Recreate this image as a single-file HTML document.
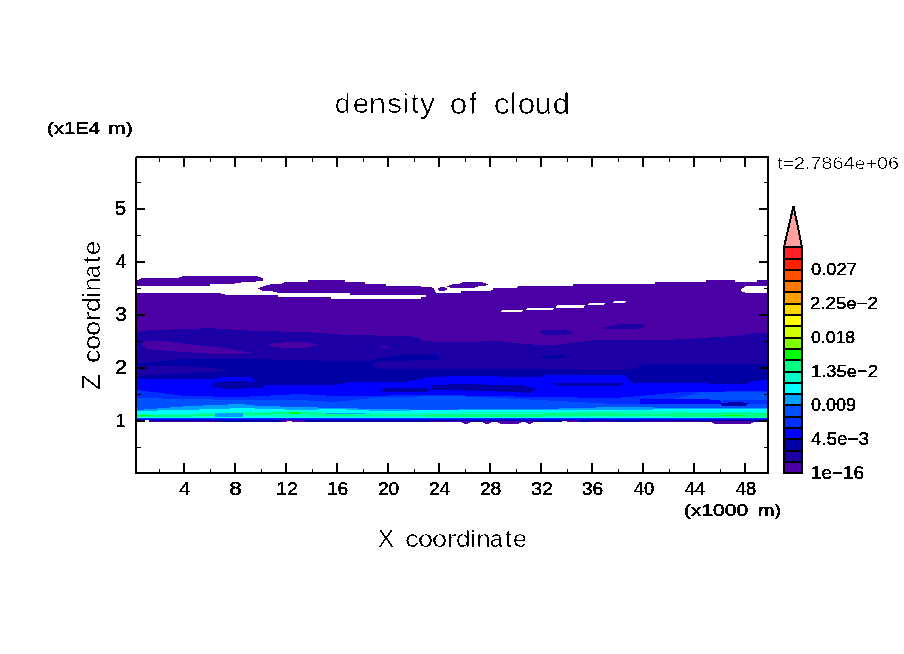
<!DOCTYPE html>
<html><head><meta charset="utf-8"><style>
html,body{margin:0;padding:0;background:#fff;width:904px;height:654px;overflow:hidden;position:relative}
svg{display:block}
</style></head><body>
<svg width="904" height="654" viewBox="0 0 904 654">
<defs><clipPath id="pc"><rect x="137" y="158" width="630" height="314"/></clipPath></defs>
<rect width="904" height="654" fill="#fff"/>
<g clip-path="url(#pc)" shape-rendering="crispEdges">
<polygon points="137,293 221,293 221,294 225,294 225,295 278,295 278,297 331,297 331,299 421,299 421,297 426,297 426,299 436,299 436,293 461,293 461,291 491,291 491,290 493,290 493,288 517,288 517,287 518,287 518,286 573,286 573,284 655,284 655,282 706,282 706,280 735,280 735,282 757,282 757,280 767,280 767,422 137,422" fill="#4b00a5"/>
<polygon points="137,280 139,280 139,279 141,279 141,278 179,278 179,277 182,277 182,276 258,276 258,277 261,277 261,278 263,278 263,281 256,281 256,282 241,282 241,283 235,283 235,284 210,284 210,286 137,286" fill="#4b00a5"/>
<polygon points="258,288 260,288 260,287 263,287 263,286 266,286 266,285 270,285 270,284 282,284 282,283 284,283 284,282 308,282 308,280 345,280 345,282 365,282 365,284 386,284 386,286 421,286 421,287 432,287 432,288 434,288 434,290 435,290 435,292 436,292 436,300 426,300 426,295 350,295 350,293 277,293 277,292 273,292 273,291 262,291 262,290 260,290 260,289 258,289" fill="#4b00a5"/>
<polygon points="437,289 439,288 441,287 444,287 446,288 447,289 446,290 444,291 440,291 438,290" fill="#4b00a5"/>
<polygon points="447,286 449,286 449,285 452,285 452,284 460,284 460,283 462,283 462,282 483,282 483,283 486,283 486,284 488,284 488,285 486,285 486,286 478,286 478,287 475,287 475,288 450,288 450,287 447,287" fill="#4b00a5"/>
<polygon points="502,310 523,310 522,312 501,312" fill="#ffffff"/>
<polygon points="527,308 554,308 553,310 526,310" fill="#ffffff"/>
<polygon points="557,305 585,305 584,308 556,308" fill="#ffffff"/>
<polygon points="589,303 605,303 604,305 588,305" fill="#ffffff"/>
<polygon points="614,301 626,301 625,303 613,303" fill="#ffffff"/>
<polygon points="740,290 743,288 746,286 767,286 767,293 746,293 743,292" fill="#ffffff"/>
<polygon points="137,332 151,330 191,329 207,328 223,329 240,330 253,331 308,332 333,334 345,335 406,336 416,337 423,341 440,342 472,342 492,341 500,341 513,343 540,345 553,345 570,343 580,342 595,340 665,340 686,339 702,338 716,337 733,336 740,335 756,333 767,333 767,422 137,422" fill="#1c00a6"/>
<polygon points="142,344 145,341 166,341 168,342 195,345 225,348 240,351 255,353 240,354 215,354 170,351 146,349" fill="#4b00a5"/>
<polygon points="268,345 275,343 290,342 305,342 319,345 305,348 285,348 272,347" fill="#4b00a5"/>
<polygon points="379,347 382,346 389,346 387,348 381,348" fill="#4b00a5"/>
<polygon points="539,332 545,330 565,330 574,333 565,335 545,335" fill="#1c00a6"/>
<polygon points="600,328 610,326 620,324 644,324 644,327 636,329 605,329" fill="#1c00a6"/>
<polygon points="137,364 163,361 181,359 240,359 300,360 335,361 371,361 385,357 400,355 439,355 440,369 540,369 615,370 634,369 640,365 653,364 767,364 767,422 137,422" fill="#0000a5"/>
<polygon points="371,365 378,361 440,360 440,369 378,369" fill="#1c00a6"/>
<polygon points="137,366 181,366 210,368 231,370 210,372 181,373 150,375 137,376" fill="#1c00a6"/>
<polygon points="539,357 548,355 560,355 566,357 558,359 545,359" fill="#0000a5"/>
<polygon points="137,379 217,379 220,377 250,377 255,381 262,385 335,385 351,382 405,382 431,377 460,376 540,377 545,375 625,375 628,378 632,383 700,383 715,384 745,384 755,381 767,380 767,422 137,422" fill="#0000ff"/>
<polygon points="215,382 240,381 267,383 262,388 225,389 211,386" fill="#0000a5"/>
<polygon points="437,386 450,384 520,385 537,389 530,393 512,392 450,390" fill="#0000a5"/>
<polygon points="550,383 560,383 625,383 620,386 560,386" fill="#0000a5"/>
<polygon points="431,385 460,385 460,390 431,390" fill="#0000a5"/>
<polygon points="380,389 390,388 425,388 431,390 425,392 385,392" fill="#0000a5"/>
<polygon points="137,390 185,396 240,397 300,394 335,396 440,395 540,397 615,398 640,396 660,394 683,392 767,391 767,422 137,422" fill="#0030ff"/>
<polygon points="137,398 185,399 240,400 300,400 335,402 380,397 455,396 540,400 615,404 640,404 683,397 700,392 767,392 767,422 137,422" fill="#0050ff"/>
<polygon points="640,399 700,399 720,400 722,404 640,404" fill="#0000ff"/>
<polygon points="722,400 767,400 767,404 722,404" fill="#0030ff"/>
<polygon points="720,403 735,402 750,403 745,406 722,406" fill="#0000a5"/>
<polygon points="137,410 190,406 240,404 260,406 300,407 335,408 380,409 440,410 475,409 540,409 615,407 690,408 767,408 767,422 137,422" fill="#00a0ff"/>
<polygon points="137,411 220,409 240,408 300,410 335,409 380,411 440,410 540,410 615,410 690,409 767,409 767,418 137,418" fill="#00ffff"/>
<polygon points="137,414 180,414 240,412 300,411 330,413 380,413 540,412 615,411 680,411 690,412 767,412 767,418 690,417 615,417 540,417 380,417 300,417 240,416 180,417 137,417" fill="#00ffc0"/>
<polygon points="137,415 175,415 245,413 300,412 330,414 380,415 470,414 530,414 560,413 600,413 640,414 700,413 767,413 767,417 700,417 640,416 600,416 560,416 530,417 470,417 380,416 330,416 300,414 245,415 175,417 137,417" fill="#00ff80"/>
<polygon points="215,413 243,413 243,417 215,417" fill="#00a0ff"/>
<polygon points="325,413 365,413 365,414 325,414" fill="#00a0ff"/>
<polygon points="289,412 299,412 299,414 289,414" fill="#00ff00"/>
<polygon points="722,415 743,415 743,416 722,416" fill="#00ff00"/>
<polygon points="140,415 150,415 150,416 140,416" fill="#00ff00"/>
<polygon points="137,418 767,418 767,419 137,419" fill="#0030ff"/>
<polygon points="137,419 767,419 767,420 137,420" fill="#0000ff"/>
<polygon points="137,420 767,420 767,422 137,422" fill="#0000a5"/>
<polygon points="150,421 215,421 215,422 150,422" fill="#4b00a5"/>
<polygon points="282,420 305,420 305,422 282,422" fill="#4b00a5"/>
<polygon points="567,420 580,420 580,422 567,422" fill="#4b00a5"/>
<polygon points="590,421 615,421 615,422 590,422" fill="#4b00a5"/>
<polygon points="430,421 460,421 460,422 430,422" fill="#4b00a5"/>
<polygon points="640,421 700,421 700,422 640,422" fill="#4b00a5"/>
<polygon points="462,421 470,421 470,423 468,423 468,424 464,424 464,423 462,423" fill="#4b00a5"/>
<polygon points="483,421 491,421 491,423 489,423 489,424 485,424 485,423 483,423" fill="#4b00a5"/>
<polygon points="498,421 521,421 521,423 519,423 519,424 500,424 500,423 498,423" fill="#4b00a5"/>
<polygon points="526,421 533,421 533,423 531,423 531,424 528,424 528,423 526,423" fill="#4b00a5"/>
<polygon points="712,421 753,421 753,423 751,423 751,424 714,424 714,423 712,423" fill="#4b00a5"/>
<polygon points="145,421 149,421 149,422 145,422" fill="#ffffff"/>
<polygon points="287,421 292,421 292,422 287,422" fill="#ffffff"/>
<polygon points="562,421 567,421 567,422 562,422" fill="#ffffff"/>
<polygon points="145,420 149,420 149,421 145,421" fill="#ffffff"/>
</g>
<g shape-rendering="crispEdges">
<rect x="135" y="157" width="2" height="317" fill="#000"/>
<rect x="136" y="156" width="633" height="2" fill="#000"/>
<rect x="767" y="156" width="2" height="318" fill="#000"/>
<rect x="135" y="472" width="634" height="2" fill="#000"/>
<rect x="159" y="469" width="1" height="3" fill="#000"/>
<rect x="159" y="158" width="1" height="4" fill="#000"/>
<rect x="183" y="463" width="2" height="9" fill="#000"/>
<rect x="183" y="158" width="2" height="9" fill="#000"/>
<rect x="210" y="469" width="1" height="3" fill="#000"/>
<rect x="210" y="158" width="1" height="4" fill="#000"/>
<rect x="234" y="463" width="2" height="9" fill="#000"/>
<rect x="234" y="158" width="2" height="9" fill="#000"/>
<rect x="261" y="469" width="1" height="3" fill="#000"/>
<rect x="261" y="158" width="1" height="4" fill="#000"/>
<rect x="285" y="463" width="2" height="9" fill="#000"/>
<rect x="285" y="158" width="2" height="9" fill="#000"/>
<rect x="312" y="469" width="1" height="3" fill="#000"/>
<rect x="312" y="158" width="1" height="4" fill="#000"/>
<rect x="336" y="463" width="2" height="9" fill="#000"/>
<rect x="336" y="158" width="2" height="9" fill="#000"/>
<rect x="363" y="469" width="1" height="3" fill="#000"/>
<rect x="363" y="158" width="1" height="4" fill="#000"/>
<rect x="387" y="463" width="2" height="9" fill="#000"/>
<rect x="387" y="158" width="2" height="9" fill="#000"/>
<rect x="414" y="469" width="1" height="3" fill="#000"/>
<rect x="414" y="158" width="1" height="4" fill="#000"/>
<rect x="438" y="463" width="2" height="9" fill="#000"/>
<rect x="438" y="158" width="2" height="9" fill="#000"/>
<rect x="465" y="469" width="1" height="3" fill="#000"/>
<rect x="465" y="158" width="1" height="4" fill="#000"/>
<rect x="489" y="463" width="2" height="9" fill="#000"/>
<rect x="489" y="158" width="2" height="9" fill="#000"/>
<rect x="516" y="469" width="1" height="3" fill="#000"/>
<rect x="516" y="158" width="1" height="4" fill="#000"/>
<rect x="540" y="463" width="2" height="9" fill="#000"/>
<rect x="540" y="158" width="2" height="9" fill="#000"/>
<rect x="567" y="469" width="1" height="3" fill="#000"/>
<rect x="567" y="158" width="1" height="4" fill="#000"/>
<rect x="591" y="463" width="2" height="9" fill="#000"/>
<rect x="591" y="158" width="2" height="9" fill="#000"/>
<rect x="618" y="469" width="1" height="3" fill="#000"/>
<rect x="618" y="158" width="1" height="4" fill="#000"/>
<rect x="642" y="463" width="2" height="9" fill="#000"/>
<rect x="642" y="158" width="2" height="9" fill="#000"/>
<rect x="669" y="469" width="1" height="3" fill="#000"/>
<rect x="669" y="158" width="1" height="4" fill="#000"/>
<rect x="693" y="463" width="2" height="9" fill="#000"/>
<rect x="693" y="158" width="2" height="9" fill="#000"/>
<rect x="720" y="469" width="1" height="3" fill="#000"/>
<rect x="720" y="158" width="1" height="4" fill="#000"/>
<rect x="744" y="463" width="2" height="9" fill="#000"/>
<rect x="744" y="158" width="2" height="9" fill="#000"/>
<rect x="137" y="447" width="4" height="1" fill="#000"/>
<rect x="764" y="447" width="3" height="1" fill="#000"/>
<rect x="137" y="420" width="8" height="2" fill="#000"/>
<rect x="759" y="420" width="8" height="2" fill="#000"/>
<rect x="137" y="394" width="4" height="1" fill="#000"/>
<rect x="764" y="394" width="3" height="1" fill="#000"/>
<rect x="137" y="367" width="8" height="2" fill="#000"/>
<rect x="759" y="367" width="8" height="2" fill="#000"/>
<rect x="137" y="341" width="4" height="1" fill="#000"/>
<rect x="764" y="341" width="3" height="1" fill="#000"/>
<rect x="137" y="314" width="8" height="2" fill="#000"/>
<rect x="759" y="314" width="8" height="2" fill="#000"/>
<rect x="137" y="288" width="4" height="1" fill="#000"/>
<rect x="764" y="288" width="3" height="1" fill="#000"/>
<rect x="137" y="261" width="8" height="2" fill="#000"/>
<rect x="759" y="261" width="8" height="2" fill="#000"/>
<rect x="137" y="235" width="4" height="1" fill="#000"/>
<rect x="764" y="235" width="3" height="1" fill="#000"/>
<rect x="137" y="208" width="8" height="2" fill="#000"/>
<rect x="759" y="208" width="8" height="2" fill="#000"/>
<rect x="137" y="182" width="4" height="1" fill="#000"/>
<rect x="764" y="182" width="3" height="1" fill="#000"/>
<rect x="785" y="463" width="16" height="9" fill="#4b00a5"/>
<rect x="785" y="452" width="16" height="9" fill="#1c00a6"/>
<rect x="785" y="440" width="16" height="10" fill="#0000a5"/>
<rect x="785" y="429" width="16" height="9" fill="#0000ff"/>
<rect x="785" y="418" width="16" height="9" fill="#0030ff"/>
<rect x="785" y="406" width="16" height="10" fill="#0050ff"/>
<rect x="785" y="395" width="16" height="9" fill="#00a0ff"/>
<rect x="785" y="384" width="16" height="9" fill="#00ffff"/>
<rect x="785" y="373" width="16" height="9" fill="#00ffc8"/>
<rect x="785" y="361" width="16" height="10" fill="#00ff80"/>
<rect x="785" y="350" width="16" height="9" fill="#00ff00"/>
<rect x="785" y="339" width="16" height="9" fill="#80ff00"/>
<rect x="785" y="327" width="16" height="10" fill="#d0ff00"/>
<rect x="785" y="316" width="16" height="9" fill="#ffff00"/>
<rect x="785" y="305" width="16" height="9" fill="#ffd700"/>
<rect x="785" y="293" width="16" height="10" fill="#ffa000"/>
<rect x="785" y="282" width="16" height="9" fill="#ff7800"/>
<rect x="785" y="271" width="16" height="9" fill="#ff5000"/>
<rect x="785" y="260" width="16" height="9" fill="#ff2000"/>
<rect x="785" y="248" width="16" height="10" fill="#ff2028"/>
<rect x="783" y="472" width="20" height="2" fill="#000"/>
<rect x="783" y="461" width="20" height="2" fill="#000"/>
<rect x="783" y="450" width="20" height="2" fill="#000"/>
<rect x="783" y="438" width="20" height="2" fill="#000"/>
<rect x="783" y="427" width="20" height="2" fill="#000"/>
<rect x="783" y="416" width="20" height="2" fill="#000"/>
<rect x="783" y="404" width="20" height="2" fill="#000"/>
<rect x="783" y="393" width="20" height="2" fill="#000"/>
<rect x="783" y="382" width="20" height="2" fill="#000"/>
<rect x="783" y="371" width="20" height="2" fill="#000"/>
<rect x="783" y="359" width="20" height="2" fill="#000"/>
<rect x="783" y="348" width="20" height="2" fill="#000"/>
<rect x="783" y="337" width="20" height="2" fill="#000"/>
<rect x="783" y="325" width="20" height="2" fill="#000"/>
<rect x="783" y="314" width="20" height="2" fill="#000"/>
<rect x="783" y="303" width="20" height="2" fill="#000"/>
<rect x="783" y="291" width="20" height="2" fill="#000"/>
<rect x="783" y="280" width="20" height="2" fill="#000"/>
<rect x="783" y="269" width="20" height="2" fill="#000"/>
<rect x="783" y="258" width="20" height="2" fill="#000"/>
<rect x="783" y="246" width="20" height="2" fill="#000"/>
<rect x="783" y="246" width="2" height="228" fill="#000"/>
<rect x="801" y="246" width="2" height="228" fill="#000"/>
<polygon points="784,247 793.5,206 802,247" fill="#ffa0a0" stroke="#000" stroke-width="2" stroke-linejoin="miter"/>
</g>
</svg>
<svg style="position:absolute;left:0;top:0;will-change:transform" width="904" height="654" viewBox="0 0 904 654">
<defs><filter id="thr" x="0" y="0" width="904" height="654" filterUnits="userSpaceOnUse" color-interpolation-filters="sRGB"><feColorMatrix type="matrix" values="0 0 0 0 0  0 0 0 0 0  0 0 0 0 0  -0.3333 -0.3333 -0.3333 1 0"/><feComponentTransfer><feFuncA type="discrete" tableValues="0 1 1"/></feComponentTransfer></filter></defs><g filter="url(#thr)"><g font-family="Liberation Sans" fill="#000"><g transform="translate(334.100,113.150)"><text x="0.745" y="0" font-size="27.802" textLength="15.953" lengthAdjust="spacingAndGlyphs" stroke="#fff" stroke-width="0.4" paint-order="fill stroke">d</text><text x="18.692" y="0" font-size="27.802" textLength="16.475" lengthAdjust="spacingAndGlyphs" stroke="#fff" stroke-width="0.4" paint-order="fill stroke">e</text><text x="34.933" y="0" font-size="27.802" textLength="16.889" lengthAdjust="spacingAndGlyphs" stroke="#fff" stroke-width="0.4" paint-order="fill stroke">n</text><text x="53.127" y="0" font-size="27.802" textLength="14.792" lengthAdjust="spacingAndGlyphs" stroke="#fff" stroke-width="0.4" paint-order="fill stroke">s</text><text x="68.318" y="0" font-size="27.802" textLength="6.177" lengthAdjust="spacingAndGlyphs" stroke="#fff" stroke-width="0.4" paint-order="fill stroke">i</text><text x="76.929" y="0" font-size="27.802" textLength="7.724" lengthAdjust="spacingAndGlyphs" stroke="#fff" stroke-width="0.4" paint-order="fill stroke">t</text><text x="85.877" y="0" font-size="27.802" textLength="15.032" lengthAdjust="spacingAndGlyphs" stroke="#fff" stroke-width="0.4" paint-order="fill stroke">y</text></g>
<g transform="translate(449.100,114.000)"><text x="0.625" y="0" font-size="28.641" textLength="17.550" lengthAdjust="spacingAndGlyphs" stroke="#fff" stroke-width="0.4" paint-order="fill stroke">o</text><text x="19.697" y="0" font-size="28.641" textLength="7.957" lengthAdjust="spacingAndGlyphs" stroke="#fff" stroke-width="0.4" paint-order="fill stroke">f</text></g>
<g transform="translate(487.700,114.000)"><text x="5.980" y="0" font-size="28.641" textLength="16.120" lengthAdjust="spacingAndGlyphs" stroke="#fff" stroke-width="0.4" paint-order="fill stroke">c</text><text x="22.611" y="0" font-size="28.641" textLength="6.363" lengthAdjust="spacingAndGlyphs" stroke="#fff" stroke-width="0.4" paint-order="fill stroke">l</text><text x="30.025" y="0" font-size="28.641" textLength="17.550" lengthAdjust="spacingAndGlyphs" stroke="#fff" stroke-width="0.4" paint-order="fill stroke">o</text><text x="47.378" y="0" font-size="28.641" textLength="16.889" lengthAdjust="spacingAndGlyphs" stroke="#fff" stroke-width="0.4" paint-order="fill stroke">u</text><text x="65.052" y="0" font-size="28.641" textLength="17.190" lengthAdjust="spacingAndGlyphs" stroke="#fff" stroke-width="0.4" paint-order="fill stroke">d</text></g>
<g transform="translate(47.000,134.300)"><text x="0" y="0" font-size="17.039" textLength="53.100" lengthAdjust="spacingAndGlyphs" stroke="#000" stroke-width="0.25">(x1E4</text></g>
<g transform="translate(108.000,134.300)"><text x="0" y="0" font-size="17.039" textLength="25.000" lengthAdjust="spacingAndGlyphs" stroke="#000" stroke-width="0.25">m)</text></g>
<g transform="translate(777.000,169.000)"><text x="0" y="0" font-size="16.667" textLength="122.000" lengthAdjust="spacingAndGlyphs" stroke="#fff" stroke-width="0.3" paint-order="fill stroke">t=2.7864e+06</text></g>
<g transform="translate(115.000,215.000)"><text x="0" y="0" font-size="20.522" textLength="11.200" lengthAdjust="spacingAndGlyphs" stroke="#000" stroke-width="0.15">5</text></g>
<g transform="translate(115.900,268.000)"><text x="0" y="0" font-size="20.522" textLength="10.300" lengthAdjust="spacingAndGlyphs" stroke="#000" stroke-width="0.15">4</text></g>
<g transform="translate(115.000,321.000)"><text x="0" y="0" font-size="20.522" textLength="12.100" lengthAdjust="spacingAndGlyphs" stroke="#000" stroke-width="0.15">3</text></g>
<g transform="translate(115.000,374.000)"><text x="0" y="0" font-size="20.522" textLength="12.100" lengthAdjust="spacingAndGlyphs" stroke="#000" stroke-width="0.15">2</text></g>
<g transform="translate(116.000,427.000)"><text x="0" y="0" font-size="18.056" textLength="9.100" lengthAdjust="spacingAndGlyphs" stroke="#000" stroke-width="0.15">1</text></g>
<g transform="translate(178.900,494.550)"><text x="0" y="0" font-size="17.868" textLength="11.300" lengthAdjust="spacingAndGlyphs" stroke="#000" stroke-width="0.15">4</text></g>
<g transform="translate(229.000,494.550)"><text x="0" y="0" font-size="17.868" textLength="13.000" lengthAdjust="spacingAndGlyphs" stroke="#000" stroke-width="0.15">8</text></g>
<g transform="translate(275.900,494.550)"><text x="0" y="0" font-size="17.868" textLength="22.200" lengthAdjust="spacingAndGlyphs" stroke="#000" stroke-width="0.15">12</text></g>
<g transform="translate(326.900,494.550)"><text x="0" y="0" font-size="17.868" textLength="21.300" lengthAdjust="spacingAndGlyphs" stroke="#000" stroke-width="0.15">16</text></g>
<g transform="translate(377.900,494.550)"><text x="0" y="0" font-size="17.868" textLength="21.300" lengthAdjust="spacingAndGlyphs" stroke="#000" stroke-width="0.15">20</text></g>
<g transform="translate(428.900,494.550)"><text x="0" y="0" font-size="17.868" textLength="21.300" lengthAdjust="spacingAndGlyphs" stroke="#000" stroke-width="0.15">24</text></g>
<g transform="translate(479.900,494.550)"><text x="0" y="0" font-size="17.868" textLength="21.300" lengthAdjust="spacingAndGlyphs" stroke="#000" stroke-width="0.15">28</text></g>
<g transform="translate(530.900,494.550)"><text x="0" y="0" font-size="17.868" textLength="22.200" lengthAdjust="spacingAndGlyphs" stroke="#000" stroke-width="0.15">32</text></g>
<g transform="translate(581.900,494.550)"><text x="0" y="0" font-size="17.868" textLength="21.300" lengthAdjust="spacingAndGlyphs" stroke="#000" stroke-width="0.15">36</text></g>
<g transform="translate(633.800,494.550)"><text x="0" y="0" font-size="17.868" textLength="20.400" lengthAdjust="spacingAndGlyphs" stroke="#000" stroke-width="0.15">40</text></g>
<g transform="translate(684.800,494.550)"><text x="0" y="0" font-size="17.868" textLength="20.300" lengthAdjust="spacingAndGlyphs" stroke="#000" stroke-width="0.15">44</text></g>
<g transform="translate(735.800,494.550)"><text x="0" y="0" font-size="17.868" textLength="20.300" lengthAdjust="spacingAndGlyphs" stroke="#000" stroke-width="0.15">48</text></g>
<g transform="translate(684.000,516.300)"><text x="0" y="0" font-size="17.039" textLength="64.100" lengthAdjust="spacingAndGlyphs" stroke="#000" stroke-width="0.25">(x1000</text></g>
<g transform="translate(758.000,516.300)"><text x="0" y="0" font-size="17.039" textLength="23.000" lengthAdjust="spacingAndGlyphs" stroke="#000" stroke-width="0.25">m)</text></g>
<g transform="translate(378.000,547.000)"><text x="0" y="0" font-size="23.611" textLength="16.000" lengthAdjust="spacingAndGlyphs" stroke="#fff" stroke-width="0.3" paint-order="fill stroke">X</text></g>
<g transform="translate(379.800,547.000)"><text x="25.137" y="0" font-size="23.759" textLength="13.684" lengthAdjust="spacingAndGlyphs" stroke="#fff" stroke-width="0.3" paint-order="fill stroke">c</text><text x="38.162" y="0" font-size="23.759" textLength="15.077" lengthAdjust="spacingAndGlyphs" stroke="#fff" stroke-width="0.3" paint-order="fill stroke">o</text><text x="52.162" y="0" font-size="23.759" textLength="15.077" lengthAdjust="spacingAndGlyphs" stroke="#fff" stroke-width="0.3" paint-order="fill stroke">o</text><text x="66.788" y="0" font-size="23.759" textLength="10.286" lengthAdjust="spacingAndGlyphs" stroke="#fff" stroke-width="0.3" paint-order="fill stroke">r</text><text x="76.198" y="0" font-size="23.759" textLength="14.593" lengthAdjust="spacingAndGlyphs" stroke="#fff" stroke-width="0.3" paint-order="fill stroke">d</text><text x="90.567" y="0" font-size="23.759" textLength="5.279" lengthAdjust="spacingAndGlyphs" stroke="#fff" stroke-width="0.3" paint-order="fill stroke">i</text><text x="96.612" y="0" font-size="23.759" textLength="14.139" lengthAdjust="spacingAndGlyphs" stroke="#fff" stroke-width="0.3" paint-order="fill stroke">n</text><text x="110.324" y="0" font-size="23.759" textLength="12.776" lengthAdjust="spacingAndGlyphs" stroke="#fff" stroke-width="0.3" paint-order="fill stroke">a</text><text x="125.307" y="0" font-size="23.759" textLength="6.601" lengthAdjust="spacingAndGlyphs" stroke="#fff" stroke-width="0.3" paint-order="fill stroke">t</text><text x="133.232" y="0" font-size="23.759" textLength="13.986" lengthAdjust="spacingAndGlyphs" stroke="#fff" stroke-width="0.3" paint-order="fill stroke">e</text></g>
<g transform="translate(100.000,389.900) rotate(-90)"><text x="0" y="0" font-size="25.000" textLength="16.000" lengthAdjust="spacingAndGlyphs" stroke="#fff" stroke-width="0.3" paint-order="fill stroke">Z</text></g>
<g transform="translate(100.000,388.100) rotate(-90)"><text x="25.037" y="0" font-size="23.883" textLength="13.684" lengthAdjust="spacingAndGlyphs" stroke="#fff" stroke-width="0.3" paint-order="fill stroke">c</text><text x="38.062" y="0" font-size="23.883" textLength="15.077" lengthAdjust="spacingAndGlyphs" stroke="#fff" stroke-width="0.3" paint-order="fill stroke">o</text><text x="52.062" y="0" font-size="23.883" textLength="15.077" lengthAdjust="spacingAndGlyphs" stroke="#fff" stroke-width="0.3" paint-order="fill stroke">o</text><text x="66.657" y="0" font-size="23.883" textLength="10.339" lengthAdjust="spacingAndGlyphs" stroke="#fff" stroke-width="0.3" paint-order="fill stroke">r</text><text x="76.098" y="0" font-size="23.883" textLength="14.593" lengthAdjust="spacingAndGlyphs" stroke="#fff" stroke-width="0.3" paint-order="fill stroke">d</text><text x="90.453" y="0" font-size="23.883" textLength="5.306" lengthAdjust="spacingAndGlyphs" stroke="#fff" stroke-width="0.3" paint-order="fill stroke">i</text><text x="96.512" y="0" font-size="23.883" textLength="14.139" lengthAdjust="spacingAndGlyphs" stroke="#fff" stroke-width="0.3" paint-order="fill stroke">n</text><text x="110.224" y="0" font-size="23.883" textLength="12.776" lengthAdjust="spacingAndGlyphs" stroke="#fff" stroke-width="0.3" paint-order="fill stroke">a</text><text x="125.189" y="0" font-size="23.883" textLength="6.635" lengthAdjust="spacingAndGlyphs" stroke="#fff" stroke-width="0.3" paint-order="fill stroke">t</text><text x="133.132" y="0" font-size="23.883" textLength="13.986" lengthAdjust="spacingAndGlyphs" stroke="#fff" stroke-width="0.3" paint-order="fill stroke">e</text></g>
<g transform="translate(810.900,274.650)"><text x="0" y="0" font-size="16.841" textLength="46.100" lengthAdjust="spacingAndGlyphs" stroke="#000" stroke-width="0.15">0.027</text></g>
<g transform="translate(810.000,308.650)"><text x="0" y="0" font-size="16.841" textLength="68.000" lengthAdjust="spacingAndGlyphs" stroke="#000" stroke-width="0.15">2.25e&#8722;2</text></g>
<g transform="translate(810.900,342.650)"><text x="0" y="0" font-size="16.841" textLength="44.200" lengthAdjust="spacingAndGlyphs" stroke="#000" stroke-width="0.15">0.018</text></g>
<g transform="translate(811.000,377.100)"><text x="0" y="0" font-size="16.667" textLength="67.000" lengthAdjust="spacingAndGlyphs" stroke="#000" stroke-width="0.15">1.35e&#8722;2</text></g>
<g transform="translate(810.900,410.550)"><text x="0" y="0" font-size="17.868" textLength="45.100" lengthAdjust="spacingAndGlyphs" stroke="#000" stroke-width="0.15">0.009</text></g>
<g transform="translate(810.900,445.000)"><text x="0" y="0" font-size="18.056" textLength="58.100" lengthAdjust="spacingAndGlyphs" stroke="#000" stroke-width="0.15">4.5e&#8722;3</text></g>
<g transform="translate(811.000,478.650)"><text x="0" y="0" font-size="18.238" textLength="53.000" lengthAdjust="spacingAndGlyphs" stroke="#000" stroke-width="0.15">1e&#8722;16</text></g></g></g>
</svg>
</body></html>
